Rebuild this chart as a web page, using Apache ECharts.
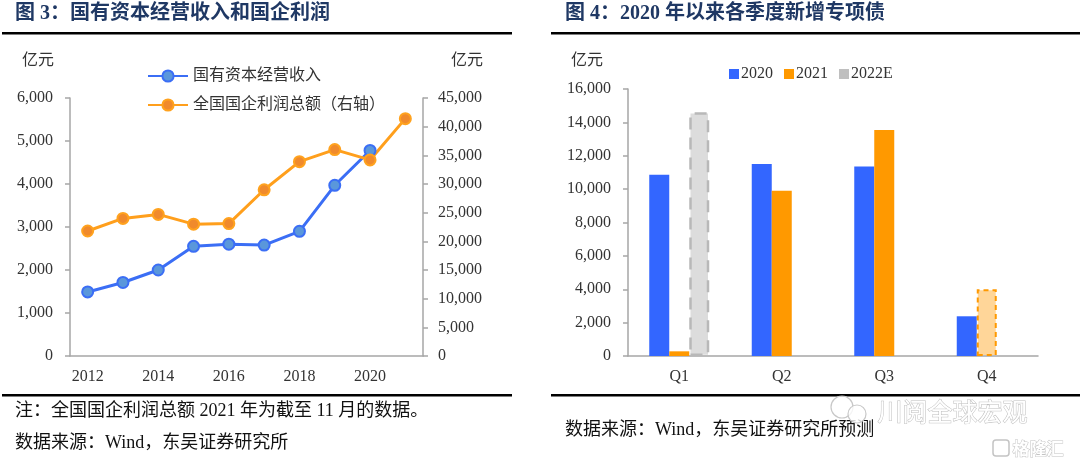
<!DOCTYPE html>
<html>
<head>
<meta charset="utf-8">
<script src="https://cdn.jsdelivr.net/npm/echarts@6/dist/echarts.min.js"></script>
<style>
html,body{margin:0;padding:0;background:#fff;}
#c{width:1080px;height:460px;}
</style>
</head>
<body>
<div id="c"></div>
<script>
// ---- Data: left chart ----
const years = ['2012','2013','2014','2015','2016','2017','2018','2019','2020','2021'];
const stateCapitalIncome = [1490, 1710, 2000, 2550, 2600, 2580, 2900, 3970, 4780, null];
const soeProfit = [21800, 24000, 24700, 23000, 23100, 28990, 33900, 36000, 34200, 41400];
const leftTicksMax = 6000, leftTicksStep = 1000;
const rightTicksMax = 45000, rightTicksStep = 5000;

// ---- Data: right chart ----
const quarters = ['Q1','Q2','Q3','Q4'];
const bonds2020 = [10860, 11500, 11350, 2380];
const bonds2021 = [280, 9900, 13550, 4000];
const bonds2022E = [14600, null, null, null];
const barTicksMax = 16000, barTicksStep = 2000;

const serif = '"Liberation Serif","Times New Roman","Noto Sans CJK SC",serif';
const cjk = '"Liberation Serif","Noto Sans CJK SC",sans-serif';
const axisGray = '#a6a6a6';
const txt = '#333';
const fmt = v => v.toLocaleString('en-US');

const chart = echarts.init(document.getElementById('c'));

const option = {
  backgroundColor: '#fff',
  animation: false,
  grid: [
    {left: 70, right: 657, top: 98, bottom: 104},
    {left: 628, right: 42, top: 89, bottom: 104}
  ],
  legend: [
    {
      data: ['国有资本经营收入', '全国国企利润总额（右轴）'],
      orient: 'vertical', left: 142, top: 63, itemGap: 13,
      itemWidth: 40, itemHeight: 14,
      textStyle: {fontFamily: cjk, fontSize: 16, color: txt}
    },
    {
      data: ['2020', '2021', '2022E'],
      left: 724, top: 61, itemGap: 11, icon: 'rect',
      itemWidth: 10, itemHeight: 10,
      textStyle: {fontFamily: serif, fontSize: 16, color: txt, padding: [0,0,0,-3]}
    }
  ],
  xAxis: [
    {
      type: 'category', gridIndex: 0, data: years,
      axisLine: {lineStyle: {color: axisGray, width: 1.5}},
      axisTick: {interval: 1, length: 5, lineStyle: {color: axisGray, width: 1.5}},
      axisLabel: {interval: 1, margin: 13, fontFamily: serif, fontSize: 16, color: txt}
    },
    {
      type: 'category', gridIndex: 1, data: quarters,
      axisLine: {lineStyle: {color: axisGray, width: 1.5}},
      axisTick: {length: 5, lineStyle: {color: axisGray, width: 1.5}},
      axisLabel: {margin: 13, fontFamily: serif, fontSize: 16, color: txt}
    }
  ],
  yAxis: [
    {
      type: 'value', gridIndex: 0, min: 0, max: leftTicksMax, interval: leftTicksStep,
      splitLine: {show: false},
      axisLine: {show: true, lineStyle: {color: axisGray, width: 1.5}},
      axisTick: {show: true, length: 5, lineStyle: {color: axisGray, width: 1.5}},
      axisLabel: {margin: 17, fontFamily: serif, fontSize: 16, color: txt, formatter: fmt}
    },
    {
      type: 'value', gridIndex: 0, position: 'right', min: 0, max: rightTicksMax, interval: rightTicksStep,
      splitLine: {show: false},
      axisLine: {show: true, lineStyle: {color: axisGray, width: 1.5}},
      axisTick: {show: true, length: 5, lineStyle: {color: axisGray, width: 1.5}},
      axisLabel: {margin: 15, fontFamily: serif, fontSize: 16, color: txt, formatter: fmt}
    },
    {
      type: 'value', gridIndex: 1, min: 0, max: barTicksMax, interval: barTicksStep,
      splitLine: {show: false},
      axisLine: {show: true, lineStyle: {color: axisGray, width: 1.5}},
      axisTick: {show: true, length: 5, lineStyle: {color: axisGray, width: 1.5}},
      axisLabel: {margin: 17, fontFamily: serif, fontSize: 16, color: txt, formatter: fmt}
    }
  ],
  series: [
    {
      name: '国有资本经营收入', type: 'line', xAxisIndex: 0, yAxisIndex: 0,
      data: stateCapitalIncome, symbol: 'circle', symbolSize: 11,
      lineStyle: {color: '#3b6ef5', width: 3},
      itemStyle: {color: '#5a97db', borderColor: '#3b6ef5', borderWidth: 2}
    },
    {
      name: '全国国企利润总额（右轴）', type: 'line', xAxisIndex: 0, yAxisIndex: 1,
      data: soeProfit, symbol: 'circle', symbolSize: 11,
      lineStyle: {color: '#ff9f1c', width: 3},
      itemStyle: {color: '#f08a2c', borderColor: '#ffa21e', borderWidth: 2}
    },
    {
      name: '2020', type: 'bar', xAxisIndex: 1, yAxisIndex: 2,
      data: bonds2020, barWidth: 20, barGap: '0%',
      itemStyle: {color: '#3366ff'}
    },
    {
      name: '2021', type: 'bar', xAxisIndex: 1, yAxisIndex: 2,
      data: bonds2021.map((v, i) => i === 3
        ? {value: v, itemStyle: {color: '#ffd699', borderColor: '#ff9900', borderWidth: 2, borderType: [5, 4]}}
        : v),
      barWidth: 20, barGap: '0%',
      itemStyle: {color: '#ff9900'}
    },
    {
      name: '2022E', type: 'bar', xAxisIndex: 1, yAxisIndex: 2,
      data: bonds2022E.map(v => v == null ? null
        : {value: v, itemStyle: {color: '#dcdcdc', borderColor: '#b8b8b8', borderWidth: 2.5, borderType: [12, 8]}}),
      barWidth: 20, barGap: '0%',
      itemStyle: {color: '#bfbfbf'}
    }
  ],
  graphic: [
    // titles
    {type: 'text', left: 15, top: 4, style: {text: '图 3：国有资本经营收入和国企利润', font: 'bold 20px ' + cjk, fill: '#1f3864'}},
    {type: 'text', left: 565, top: 4, style: {text: '图 4：2020 年以来各季度新增专项债', font: 'bold 20px ' + cjk, fill: '#1f3864'}},
    // rules
    {type: 'rect', shape: {x: 2, y: 32, width: 510, height: 2.5}, style: {fill: '#000'}},
    {type: 'rect', shape: {x: 551, y: 32, width: 529, height: 2.5}, style: {fill: '#000'}},
    {type: 'rect', shape: {x: 2, y: 394, width: 510, height: 2.5}, style: {fill: '#000'}},
    {type: 'rect', shape: {x: 551, y: 394, width: 529, height: 2.5}, style: {fill: '#000'}},
    // unit labels
    {type: 'text', left: 22, top: 53, style: {text: '亿元', font: '16px ' + cjk, fill: txt}},
    {type: 'text', left: 451, top: 53, style: {text: '亿元', font: '16px ' + cjk, fill: txt}},
    {type: 'text', left: 571, top: 53, style: {text: '亿元', font: '16px ' + cjk, fill: txt}},
    // notes
    {type: 'text', left: 15, top: 402, style: {text: '注：全国国企利润总额 2021 年为截至 11 月的数据。', font: '18px ' + cjk, fill: '#111'}},
    {type: 'text', left: 15, top: 434, style: {text: '数据来源：Wind，东吴证券研究所', font: '18px ' + cjk, fill: '#111'}},
    {type: 'text', left: 565, top: 421, style: {text: '数据来源：Wind，东吴证券研究所预测', font: '18px ' + cjk, fill: '#111'}},
    // watermark
    {type: 'circle', shape: {cx: 842, cy: 407, r: 11}, style: {fill: 'rgba(255,255,255,0.6)', stroke: '#c8c8c8', lineWidth: 1.2}},
    {type: 'circle', shape: {cx: 857, cy: 414, r: 9}, style: {fill: 'rgba(255,255,255,0.8)', stroke: '#c8c8c8', lineWidth: 1.2}},
    {type: 'text', left: 877, top: 398, style: {text: '川阅全球宏观', font: '25px "Noto Sans CJK SC"', fill: '#fff', stroke: '#bdbdbd', lineWidth: 1}},
    {type: 'text', left: 1012, top: 440, style: {text: '格隆汇', font: 'bold 17px "Noto Sans CJK SC"', fill: '#fff', stroke: '#c4c4c4', lineWidth: 1}},
    {type: 'rect', shape: {x: 993, y: 440, width: 16, height: 16, r: 3}, style: {fill: '#fff', stroke: '#c4c4c4', lineWidth: 1.5}}
  ]
};
chart.setOption(option);
</script>
</body>
</html>
